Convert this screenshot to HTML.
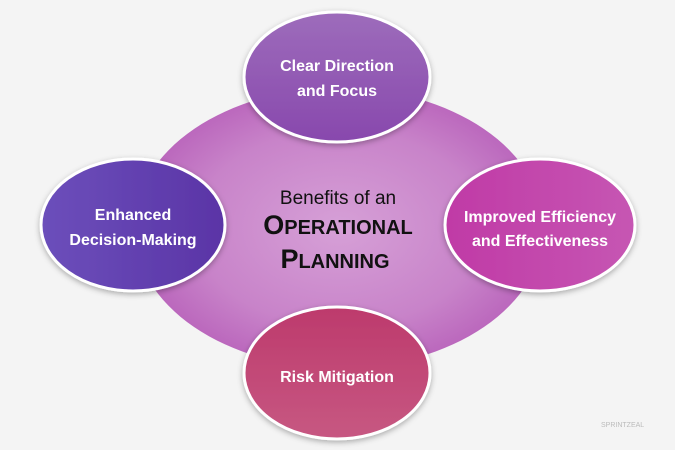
<!DOCTYPE html>
<html><head><style>
body{margin:0;width:675px;height:450px;background:#f4f4f4;overflow:hidden}
svg{display:block}
text{font-family:"Liberation Sans",sans-serif}
</style></head><body>
<svg width="675" height="450" viewBox="0 0 675 450">
<defs>
<radialGradient id="big" cx="50%" cy="50%" r="50%">
<stop offset="0" stop-color="#d6a0d7"/><stop offset="0.7" stop-color="#c883c9"/><stop offset="1" stop-color="#bb68bd"/></radialGradient>
<linearGradient id="gt" x1="0" y1="0" x2="0" y2="1"><stop offset="0" stop-color="#9d6cbb"/><stop offset="1" stop-color="#8848ad"/></linearGradient>
<linearGradient id="gl" x1="0" y1="0" x2="1" y2="0"><stop offset="0" stop-color="#6c4fbb"/><stop offset="1" stop-color="#5a34a6"/></linearGradient>
<linearGradient id="gr" x1="0" y1="0" x2="1" y2="0"><stop offset="0" stop-color="#c03aa6"/><stop offset="1" stop-color="#c656b3"/></linearGradient>
<linearGradient id="gb" x1="0" y1="0" x2="0" y2="1"><stop offset="0" stop-color="#bd3a6c"/><stop offset="1" stop-color="#c75882"/></linearGradient>
<filter id="sh" x="-20%" y="-20%" width="140%" height="140%"><feDropShadow dx="0" dy="2" stdDeviation="3" flood-opacity="0.3"/></filter>
</defs>
<ellipse cx="339" cy="228" rx="205" ry="140" fill="url(#big)"/>
<g stroke="#fff" stroke-width="3" filter="url(#sh)">
<ellipse cx="337" cy="77" rx="93" ry="65" fill="url(#gt)"/>
<ellipse cx="133" cy="225" rx="92" ry="66" fill="url(#gl)"/>
<ellipse cx="540" cy="225" rx="95" ry="66" fill="url(#gr)"/>
<ellipse cx="337" cy="373" rx="93" ry="66" fill="url(#gb)"/>
</g>
<g fill="#fff" font-weight="bold" font-size="16" text-anchor="middle">
<text x="337" y="71">Clear Direction</text>
<text x="337" y="96">and Focus</text>
<text x="133" y="220">Enhanced</text>
<text x="133" y="245">Decision-Making</text>
<text x="540" y="222">Improved Efficiency</text>
<text x="540" y="246">and Effectiveness</text>
<text x="337" y="382">Risk Mitigation</text>
</g>
<g fill="#111" text-anchor="middle">
<text x="338" y="204" font-size="19">Benefits of an</text>
<text x="338" y="234" font-size="27" font-weight="bold">O<tspan font-size="20">PERATIONAL</tspan></text>
<text x="335" y="268" font-size="27" font-weight="bold">P<tspan font-size="20">LANNING</tspan></text>
</g>
<text x="601" y="427" font-size="7" fill="#bbb" font-family="Liberation Serif,serif">SPRINTZEAL</text>
</svg>
</body></html>
